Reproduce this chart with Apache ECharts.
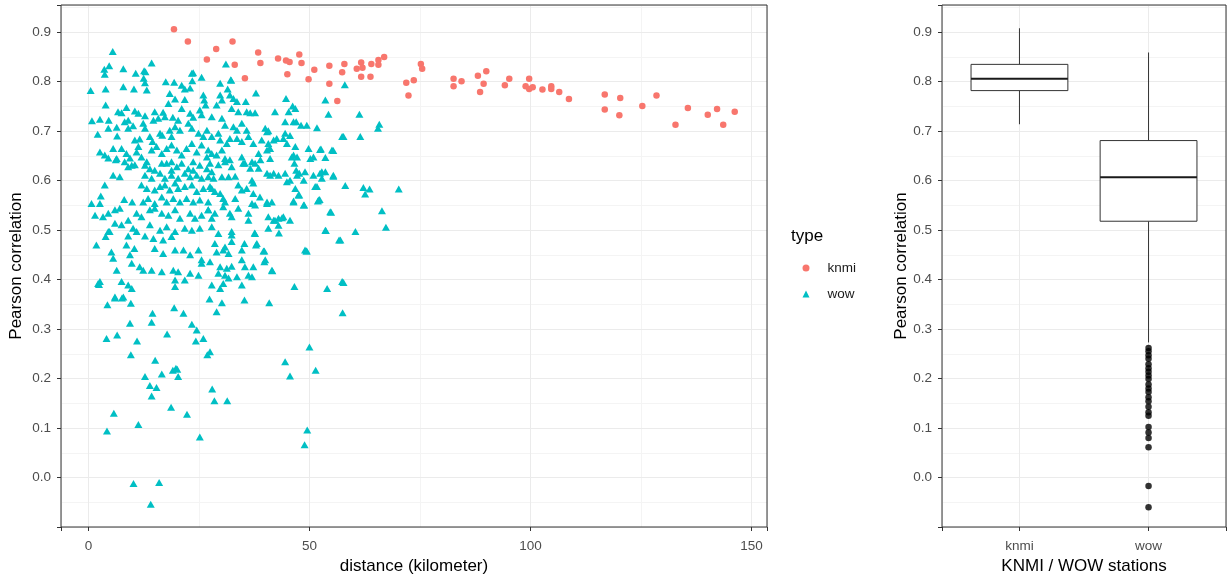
<!DOCTYPE html>
<html>
<head>
<meta charset="utf-8">
<script src="https://cdn.jsdelivr.net/npm/echarts@6/dist/echarts.min.js"></script>
<style>html,body{margin:0;padding:0;background:#fff;}#c{width:1231px;height:575px;}</style>
</head>
<body>
<div id="c"></div>
<script>
// ---------- data ----------
const seriesNames = ['knmi', 'wow'];
const boxCategories = ['knmi', 'wow'];

// [distance km, Pearson correlation]
const knmiPoints = [
[19.35,0.906],[22.5,0.881],[32.6,0.881],[28.9,0.866],[26.8,0.845],[33.1,0.834],[35.4,0.807],[38.4,0.859],[38.9,0.838],[42.9,0.847],
[44.7,0.843],[45.5,0.840],[47.7,0.855],[48.2,0.838],[45.0,0.815],[49.8,0.805],[51.1,0.824],[54.5,0.832],[54.5,0.796],[56.3,0.761],
[57.4,0.819],[57.9,0.836],[60.7,0.826],[61.7,0.839],[62.0,0.828],[61.7,0.810],[63.8,0.810],[64.0,0.836],[65.6,0.844],[65.6,0.834],
[66.9,0.850],[71.9,0.798],[72.4,0.772],[73.6,0.803],[75.2,0.836],[75.5,0.826],[82.6,0.806],[82.6,0.791],[84.4,0.801],[88.1,0.812],
[90.0,0.821],[89.4,0.796],[88.6,0.779],[94.2,0.793],[95.2,0.806],[99.7,0.806],[98.9,0.791],[99.7,0.785],[100.5,0.789],[102.7,0.784],
[104.7,0.791],[104.7,0.785],[106.5,0.779],[108.7,0.765],[116.8,0.774],[116.8,0.744],[120.3,0.767],[120.1,0.732],[125.3,0.751],[128.5,0.772],
[132.8,0.713],[135.6,0.747],[140.1,0.733],[142.2,0.745],[143.6,0.713],[146.2,0.739]
];

const wowPoints = [
[5.5,0.861],[3.6,0.825],[4.7,0.832],[3.7,0.815],[7.9,0.826],[10.7,0.817],[12.6,0.822],[12.9,0.820],[14.3,0.838],[12.5,0.807],
[12.8,0.798],[0.5,0.782],[3.9,0.785],[7.9,0.790],[10.3,0.785],[13.2,0.783],[17.5,0.800],[19.4,0.799],[21.1,0.793],[23.4,0.817],
[23.5,0.802],[23.0,0.787],[25.6,0.809],[21.8,0.785],[31.1,0.836],[32.2,0.804],[23.7,0.818],
[18.4,0.776],[19.6,0.765],[18.1,0.756],[21.8,0.764],[26.0,0.773],[26.2,0.763],[26.5,0.753],[3.9,0.753],[6.7,0.739],[7.5,0.737],
[8.6,0.748],[10.5,0.741],[11.3,0.736],[12.8,0.731],[15.0,0.739],[16.9,0.738],[17.3,0.729],[19.1,0.728],[20.3,0.722],[21.1,0.746],
[23.0,0.736],[23.7,0.728],[25.2,0.743],[25.6,0.733],[0.8,0.721],[2.6,0.724],[4.6,0.722],[4.5,0.706],[6.4,0.708],[8.2,0.719],
[9.0,0.722],[9.0,0.706],[10.1,0.711],[12.4,0.716],[12.8,0.706],[14.7,0.722],[15.8,0.726],[2.1,0.694],[6.5,0.690],[10.5,0.682],
[11.6,0.684],[13.9,0.689],[14.5,0.679],[16.2,0.696],[16.7,0.692],[18.4,0.702],[18.8,0.689],[19.6,0.709],[20.7,0.702],[22.6,0.716],
[23.4,0.706],[24.9,0.696],[26.0,0.689],[26.8,0.702],[2.6,0.658],[3.7,0.652],[4.5,0.646],[5.6,0.665],[6.4,0.645],[7.5,0.665],
[8.6,0.655],[9.4,0.646],[10.9,0.658],[11.3,0.669],[12.0,0.648],[13.2,0.638],[14.3,0.662],[15.4,0.669],[16.6,0.655],[17.7,0.665],
[18.8,0.672],[20.0,0.662],[21.1,0.652],[22.2,0.665],[23.4,0.675],[24.5,0.658],[25.6,0.672],[26.8,0.648],[27.1,0.662],[8.2,0.638],
[9.0,0.628],[10.5,0.632],[16.6,0.635],[18.8,0.638],[21.1,0.635],[23.7,0.638],
[32.3,0.803],[29.8,0.797],[31.5,0.785],[32.0,0.773],[29.8,0.773],[30.2,0.763],[29.0,0.753],[32.8,0.766],[33.6,0.760],[35.6,0.760],
[37.9,0.777],[44.7,0.766],[32.4,0.746],[33.9,0.739],[35.8,0.739],[36.6,0.737],[37.7,0.737],[42.2,0.739],[45.3,0.739],[46.2,0.751],
[46.8,0.746],[27.9,0.729],[30.2,0.726],[30.9,0.712],[32.8,0.709],[33.6,0.702],[34.7,0.716],[35.8,0.702],[40.0,0.706],[40.4,0.699],
[44.5,0.719],[46.4,0.719],[49.4,0.712],[51.7,0.707],[54.3,0.734],[53.6,0.763],[27.9,0.689],[29.4,0.696],[29.8,0.682],[31.3,0.675],
[32.0,0.685],[33.6,0.685],[34.7,0.679],[36.2,0.689],[37.3,0.675],[39.2,0.682],[40.7,0.675],[41.1,0.665],[41.9,0.682],[42.6,0.685],
[44.5,0.696],[44.9,0.675],[46.8,0.669],[49.8,0.665],[52.4,0.663],[55.1,0.662],[57.4,0.689],[27.9,0.655],[29.0,0.652],[30.2,0.662],
[30.9,0.645],[32.0,0.642],[34.7,0.648],[35.4,0.635],[37.0,0.638],[38.5,0.655],[38.9,0.642],[40.4,0.662],[41.1,0.645],[46.0,0.648],
[47.2,0.648],[50.2,0.645],[50.9,0.648],
[47.0,0.719],[48.1,0.712],[40.7,0.701],[45.6,0.691],[44.1,0.685],[41.0,0.665],[46.4,0.652],[46.6,0.635],[47.0,0.621],[47.7,0.615],
[58.0,0.794],[61.3,0.734],[57.7,0.689],[61.5,0.689],[65.8,0.714],[65.5,0.706],[52.6,0.664],[55.4,0.661],[53.6,0.647],[52.8,0.618],
[55.4,0.609],
[6.2,0.642],[9.8,0.631],[12.8,0.631],[13.9,0.624],[15.0,0.621],[17.7,0.635],[18.8,0.621],[20.0,0.628],[22.6,0.624],[23.7,0.621],
[25.2,0.631],[26.8,0.624],[27.9,0.618],
[5.6,0.611],[7.1,0.608],[12.8,0.611],[14.3,0.605],[16.2,0.615],[17.3,0.605],[18.8,0.611],[20.3,0.605],[21.8,0.615],[23.0,0.608],
[24.5,0.611],[25.6,0.605],[27.1,0.608],[28.3,0.605],
[3.7,0.591],[12.0,0.591],[13.2,0.584],[15.0,0.581],[16.2,0.588],[17.3,0.591],[18.4,0.581],[19.6,0.595],[20.3,0.584],[21.8,0.588],
[23.4,0.591],[24.5,0.578],[26.0,0.584],[27.5,0.588],
[2.8,0.569],[8.1,0.562],[9.9,0.557],[12.4,0.557],[13.5,0.564],[15.0,0.554],[16.6,0.567],[17.7,0.557],[19.2,0.564],[20.7,0.557],
[22.2,0.564],[23.7,0.557],[25.2,0.561],[27.1,0.557],[0.7,0.554],[2.6,0.554],
[1.5,0.530],[3.3,0.527],[4.5,0.534],[6.0,0.541],[7.1,0.544],[9.0,0.520],[10.9,0.534],[12.0,0.527],[13.9,0.541],[15.0,0.544],
[16.6,0.534],[18.1,0.530],[19.6,0.541],[20.7,0.524],[23.0,0.534],[24.1,0.524],[25.6,0.530],[27.1,0.541],[27.9,0.524],
[6.0,0.514],[7.5,0.511],[10.1,0.504],[10.9,0.497],[4.5,0.497],[13.9,0.511],[16.2,0.500],[17.7,0.507],[19.6,0.497],[21.8,0.504],
[23.4,0.500],[25.2,0.504],[9.0,0.488],[12.8,0.488],[14.7,0.483],[16.9,0.480],[18.8,0.487],
[1.8,0.470],[5.2,0.456],[5.6,0.443],[8.6,0.470],[9.4,0.450],[10.4,0.463],[15.0,0.463],[16.9,0.453],[19.6,0.460],[21.5,0.460],
[23.0,0.450],[24.9,0.460],[25.6,0.440],
[11.6,0.426],[12.4,0.419],[14.3,0.419],[16.6,0.416],[19.2,0.419],[6.4,0.419],[9.8,0.433],[20.3,0.416],[23.0,0.413],[24.9,0.409],
[25.6,0.433],[2.2,0.392],[7.5,0.396],[9.0,0.389],[9.8,0.382],[19.6,0.386],[6.0,0.365],[7.9,0.365],
[27.5,0.635],[29.4,0.632],[30.9,0.638],[32.4,0.628],[35.0,0.635],[36.6,0.625],[37.7,0.635],[38.5,0.625],[40.4,0.615],[41.1,0.611],
[41.9,0.615],[43.0,0.611],[44.5,0.615],[47.2,0.611],[49.0,0.618],[50.9,0.611],[52.4,0.615],[53.6,0.618],[55.4,0.611],
[30.2,0.608],[31.7,0.608],[33.2,0.609],[37.0,0.601],[37.3,0.595],[44.9,0.598],[45.6,0.601],[48.7,0.601],[51.3,0.588],[52.8,0.605],
[33.9,0.591],[34.7,0.581],[35.8,0.584],[27.9,0.584],[28.6,0.578],[29.8,0.574],[46.8,0.584],[30.5,0.564],[30.9,0.557],[33.2,0.564],
[37.3,0.574],[38.8,0.567],[37.0,0.554],[37.7,0.551],[40.4,0.557],[41.5,0.557],[46.4,0.557],[47.5,0.571],[48.7,0.551],[52.1,0.561],
[27.1,0.541],[28.6,0.534],[30.5,0.547],[32.0,0.534],[32.4,0.527],[33.9,0.544],[36.2,0.534],[36.2,0.520],[40.7,0.527],[41.9,0.520],
[43.0,0.524],[44.1,0.527],[45.6,0.520],[43.0,0.510],[54.7,0.537],[27.9,0.507],[29.4,0.493],[32.4,0.497],[32.4,0.490],[37.7,0.493],
[40.7,0.504],[53.6,0.500],[57.0,0.480],[28.6,0.473],[30.9,0.466],[32.4,0.477],[29.0,0.456],[30.5,0.460],[31.7,0.453],[35.3,0.473],
[38.1,0.473],[34.7,0.460],[39.6,0.458],[49.0,0.460],[27.5,0.436],[29.8,0.426],[31.3,0.423],[32.4,0.427],[34.7,0.440],[35.4,0.426],
[37.3,0.426],[40.0,0.440],[41.5,0.419],[29.4,0.413],[30.9,0.409],[31.7,0.403],[33.6,0.406],[36.2,0.409],[37.0,0.406],[27.9,0.389],
[29.8,0.382],[30.5,0.392],[34.7,0.389],[46.6,0.386],[54.0,0.382],[57.4,0.396],
[47.7,0.571],[46.4,0.559],[48.8,0.551],[51.7,0.588],[51.9,0.559],[40.4,0.554],[42.2,0.520],[43.8,0.525],[43.1,0.494],[37.6,0.494],
[37.9,0.470],[39.8,0.458],[49.3,0.458],[39.8,0.436],[41.6,0.418],[40.9,0.353],[35.3,0.359],[30.2,0.353],[29.0,0.335],[27.4,0.361],
[21.5,0.332],[19.4,0.343],[23.4,0.310],[24.5,0.298],[26.0,0.281],[24.3,0.276],[14.5,0.332],[14.3,0.314],[17.8,0.290],[11.0,0.276],
[9.4,0.312],[4.1,0.281],[6.5,0.288],[4.3,0.349],[6.0,0.363],[7.6,0.363],[9.6,0.352],[2.6,0.396],[2.4,0.390],[3.9,0.487],
[4.8,0.497],[19.6,0.399],[21.8,0.399],
[58.1,0.590],[62.2,0.586],[63.6,0.583],[62.6,0.573],[70.2,0.583],[52.3,0.562],[54.9,0.536],[66.4,0.539],[67.3,0.506],[60.4,0.497],
[56.7,0.480],[53.7,0.499],[49.4,0.458],[57.7,0.394],[57.5,0.333],
[9.6,0.248],[15.1,0.237],[19.8,0.221],[26.9,0.248],[27.5,0.254],[44.5,0.234],[50.0,0.264],[12.8,0.204],[16.6,0.209],[19.1,0.217],
[20.1,0.219],[20.3,0.204],[13.9,0.186],[15.4,0.182],[14.3,0.165],[28.0,0.179],[28.5,0.155],[31.4,0.155],[18.7,0.142],[22.3,0.128],
[5.75,0.130],[11.3,0.107],[4.2,0.094],[25.2,0.082],[10.2,-0.012],[16.0,-0.010],[14.1,-0.054],[45.6,0.205],[51.4,0.217],[49.5,0.096],
[48.9,0.066]
];

// boxplot summaries: [lower whisker, Q1, median, Q3, upper whisker]
const knmiBox = [0.714, 0.782, 0.806, 0.835, 0.908];
const wowBox = [0.273, 0.518, 0.607, 0.681, 0.859];
const wowOutliers = [0.262,0.255,0.247,0.240,0.229,0.221,0.214,0.206,0.199,0.188,0.180,0.173,0.162,0.154,0.143,0.132,0.125,0.102,0.091,0.080,0.061,-0.017,-0.060];

// ---------- chart ----------
const FONT = '"Liberation Sans", Arial, sans-serif';
const TICK_COLOR = '#4D4D4D';
const BORDER = '#333333';
const MAJOR = '#EBEBEB';
const MINOR = '#F4F4F4';
const Y_MIN = -0.1, Y_MAX = 0.955;
const X_MIN = -6.2, X_MAX = 153.5;

const yFmt = function (v) {
  const r = Math.round(v * 10);
  return (Math.abs(v * 10 - r) < 1e-6 && r >= 0 && r <= 9) ? (r / 10).toFixed(1) : '';
};
const xFmt = function (v) {
  return (v >= 0 && Math.abs(v / 50 - Math.round(v / 50)) < 1e-9) ? String(Math.round(v)) : '';
};
const catFmt = function (v) {
  const i = Math.round(v) - 1;
  return (Math.abs(v - Math.round(v)) < 1e-9 && boxCategories[i]) ? boxCategories[i] : '';
};

function mainY(grid, name, gap) {
  return {
    gridIndex: grid, type: 'value', min: Y_MIN, max: Y_MAX, minInterval: 0.1, maxInterval: 0.1,
    position: 'left', z: 1,
    name: name, nameLocation: 'middle', nameGap: gap, nameMoveOverlap: false,
    nameTextStyle: { fontFamily: FONT, fontSize: 17, color: '#000' },
    axisLine: { show: false, onZero: false },
    axisTick: { show: true, length: 4, lineStyle: { color: BORDER } },
    axisLabel: { formatter: yFmt, fontFamily: FONT, fontSize: 13.5, color: TICK_COLOR, margin: 10 },
    splitLine: { show: true, lineStyle: { color: MAJOR, width: 1 } }
  };
}
function minorY(grid) {
  return {
    gridIndex: grid, type: 'value', min: Y_MIN, max: Y_MAX, minInterval: 0.05, maxInterval: 0.05,
    position: 'right', z: 0,
    axisLine: { show: false, onZero: false }, axisTick: { show: false }, axisLabel: { show: false },
    splitLine: { show: true, lineStyle: { color: MINOR, width: 1 } }
  };
}

const chart = echarts.init(document.getElementById('c'), null, { renderer: 'canvas' });
chart.setOption({
  animation: false,
  backgroundColor: '#ffffff',
  title: {
    text: 'type', left: 791, top: 228, padding: 0,
    textStyle: { fontFamily: FONT, fontSize: 17, fontWeight: 'normal', color: '#000' }
  },
  legend: {
    data: [{ name: seriesNames[0], icon: 'circle' }, { name: seriesNames[1], icon: 'triangle' }],
    orient: 'vertical', left: 802.5, top: 261, padding: 0,
    itemWidth: 7, itemHeight: 7, itemGap: 12, selectedMode: false,
    textStyle: { fontFamily: FONT, fontSize: 13.5, color: '#1A1A1A', padding: [0, 0, 0, 13] }
  },
  grid: [
    { left: 61, top: 5, width: 706, height: 522, show: true, z: 5, borderColor: BORDER, borderWidth: 1,
      backgroundColor: 'transparent', containLabel: false, outerBoundsMode: 'none' },
    { left: 942, top: 5, width: 284, height: 522, show: true, z: 5, borderColor: BORDER, borderWidth: 1,
      backgroundColor: 'transparent', containLabel: false, outerBoundsMode: 'none' }
  ],
  xAxis: [
    {
      gridIndex: 0, type: 'value', min: X_MIN, max: X_MAX, minInterval: 50, maxInterval: 50,
      position: 'bottom', z: 1,
      name: 'distance (kilometer)', nameLocation: 'middle', nameGap: 29,
      nameTextStyle: { fontFamily: FONT, fontSize: 17, color: '#000' },
      axisLine: { show: false, onZero: false },
      axisTick: { show: true, length: 4, lineStyle: { color: BORDER } },
      axisLabel: { formatter: xFmt, fontFamily: FONT, fontSize: 13.5, color: TICK_COLOR, margin: 12 },
      splitLine: { show: true, lineStyle: { color: MAJOR, width: 1 } }
    },
    {
      gridIndex: 0, type: 'value', min: X_MIN, max: X_MAX, minInterval: 25, maxInterval: 25,
      position: 'top', z: 0,
      axisLine: { show: false, onZero: false }, axisTick: { show: false }, axisLabel: { show: false },
      splitLine: { show: true, lineStyle: { color: MINOR, width: 1 } }
    },
    {
      gridIndex: 1, type: 'value', min: 0.4, max: 2.6, minInterval: 1, maxInterval: 1,
      position: 'bottom', z: 1,
      name: 'KNMI / WOW stations', nameLocation: 'middle', nameGap: 28,
      nameTextStyle: { fontFamily: FONT, fontSize: 17, color: '#000' },
      axisLine: { show: false, onZero: false },
      axisTick: { show: true, length: 4, lineStyle: { color: BORDER } },
      axisLabel: { formatter: catFmt, fontFamily: FONT, fontSize: 13.5, color: TICK_COLOR, margin: 12 },
      splitLine: { show: true, lineStyle: { color: MAJOR, width: 1 } }
    }
  ],
  yAxis: [
    mainY(0, 'Pearson correlation', 36),
    minorY(0),
    mainY(1, 'Pearson correlation', 32),
    minorY(1)
  ],
  series: [
    {
      name: seriesNames[0], type: 'scatter', xAxisIndex: 0, yAxisIndex: 0,
      symbol: 'circle', symbolSize: 6.5,
      itemStyle: { color: '#F8766D', opacity: 1 },
      data: knmiPoints
    },
    {
      name: seriesNames[1], type: 'scatter', xAxisIndex: 0, yAxisIndex: 0,
      symbol: 'triangle', symbolSize: [8, 7],
      itemStyle: { color: '#00BFC4', opacity: 1 },
      data: wowPoints
    },
    {
      name: 'box', type: 'custom', xAxisIndex: 2, yAxisIndex: 2,
      encode: { x: 0, y: [1, 2, 3, 4, 5] },
      data: [knmiBox, wowBox].map(function (s, i) { return [i + 1].concat(s); }),
      renderItem: function (params, api) {
        const x = api.value(0);
        const lo = api.coord([x, api.value(1)]);
        const q1 = api.coord([x, api.value(2)]);
        const md = api.coord([x, api.value(3)]);
        const q3 = api.coord([x, api.value(4)]);
        const hi = api.coord([x, api.value(5)]);
        const hw = api.size([0.75, 0])[0] / 2;
        const ls = { stroke: BORDER, lineWidth: 1 };
        return {
          type: 'group',
          children: [
            { type: 'line', shape: { x1: lo[0], y1: lo[1], x2: q1[0], y2: q1[1] }, style: ls },
            { type: 'line', shape: { x1: q3[0], y1: q3[1], x2: hi[0], y2: hi[1] }, style: ls },
            { type: 'rect', shape: { x: q3[0] - hw, y: q3[1], width: 2 * hw, height: q1[1] - q3[1] },
              style: { fill: '#ffffff', stroke: BORDER, lineWidth: 1 } },
            { type: 'line', shape: { x1: md[0] - hw, y1: md[1], x2: md[0] + hw, y2: md[1] },
              style: { stroke: '#1A1A1A', lineWidth: 2 } }
          ]
        };
      }
    },
    {
      name: 'outliers', type: 'scatter', xAxisIndex: 2, yAxisIndex: 2,
      symbol: 'circle', symbolSize: 6.5, z: 3,
      itemStyle: { color: '#000000' },
      data: wowOutliers.map(function (v) { return [boxCategories.indexOf('wow') + 1, v]; })
    }
  ]
});
</script>
</body>
</html>
